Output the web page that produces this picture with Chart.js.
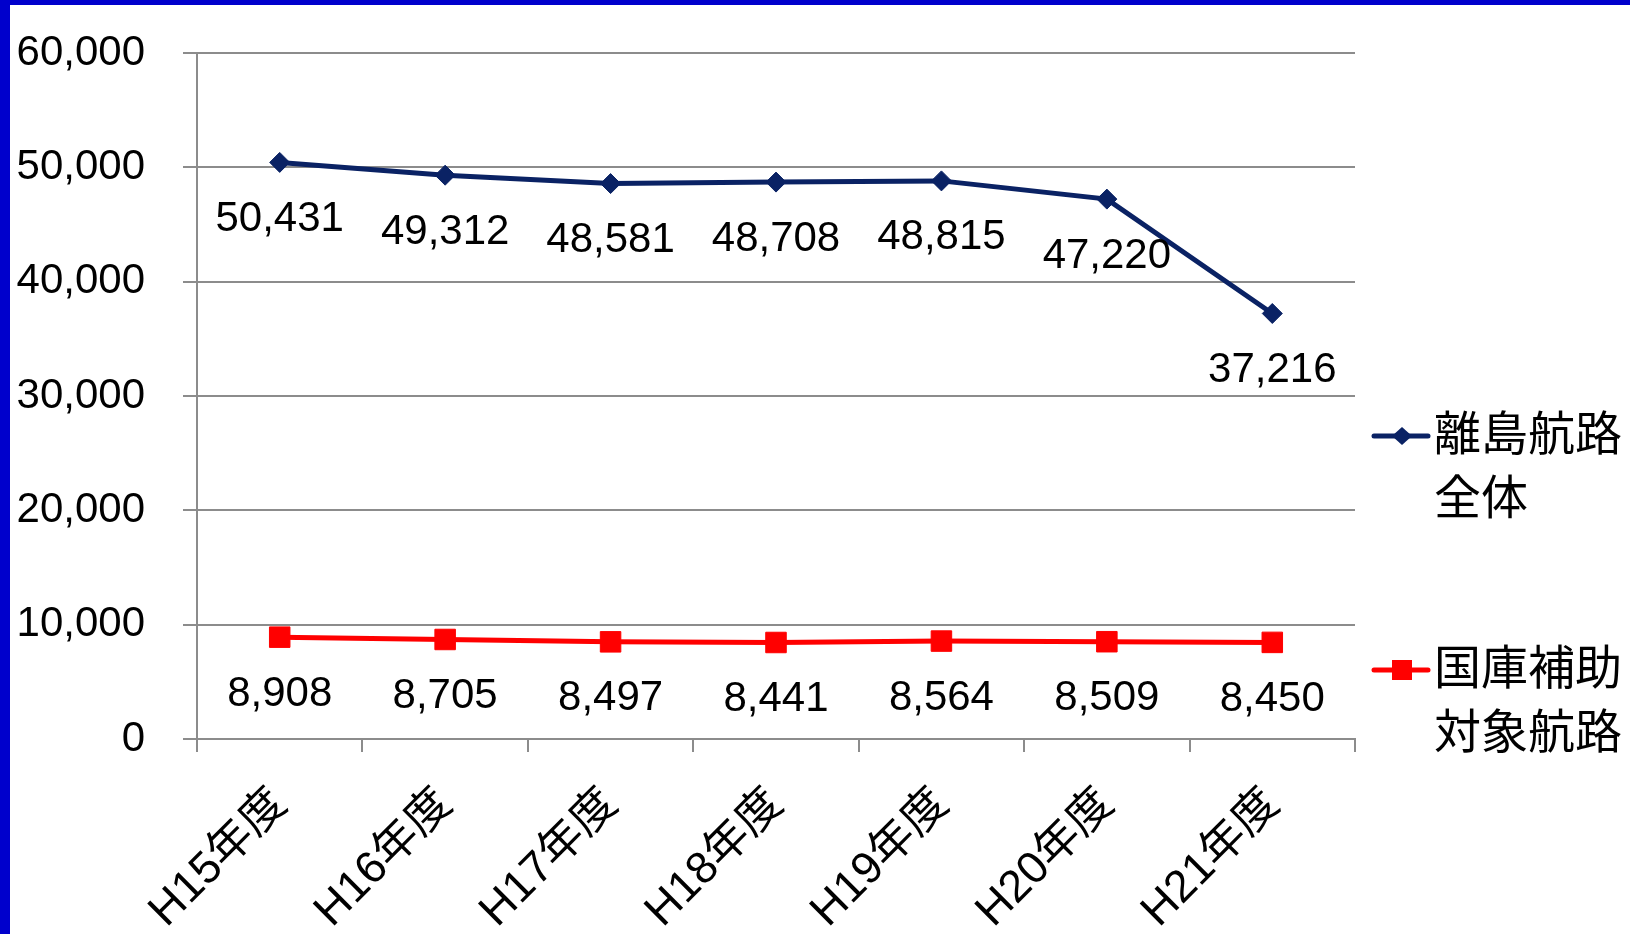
<!DOCTYPE html>
<html>
<head>
<meta charset="utf-8">
<script src="https://cdn.jsdelivr.net/npm/chart.js@4.4.0/dist/chart.umd.min.js"></script>
<style>
  html, body { margin: 0; padding: 0; background: #fff; }
  #frame {
    position: absolute; left: 0; top: 0;
    width: 1620px; height: 929px;
    border-left: 10px solid #0000cc;
    border-top: 5px solid #0000cc;
  }
  canvas { display: block; }
</style>
</head>
<body>
<div id="frame"><canvas id="chart" width="1620" height="929"></canvas></div>
<script>
  // passengers per year (thousand), fiscal years H15..H21
  const years = ['H15年度', 'H16年度', 'H17年度', 'H18年度', 'H19年度', 'H20年度', 'H21年度'];
  const allIslandRoutes = [50431, 49312, 48581, 48708, 48815, 47220, 37216];
  const subsidizedRoutes = [8908, 8705, 8497, 8441, 8564, 8509, 8450];
  const seriesNames = [['離島航路', '全体'], ['国庫補助', '対象航路']];
  const yMax = 60000;
  const yStep = 10000;

  const FONT = '"Liberation Sans", "Noto Sans CJK JP", sans-serif';
  const GRID = '#8c8c8c';

  // value under every point
  const valueLabels = {
    id: 'valueLabels',
    afterDatasetsDraw(chart) {
      const ctx = chart.ctx;
      ctx.save();
      ctx.font = '42px ' + FONT;
      ctx.fillStyle = '#000';
      ctx.textAlign = 'center';
      ctx.textBaseline = 'middle';
      chart.data.datasets.forEach((ds, i) => {
        chart.getDatasetMeta(i).data.forEach((pt, j) => {
          ctx.fillText(ds.data[j].toLocaleString('en-US'), pt.x, pt.y + 57);
        });
      });
      ctx.restore();
    }
  };

  // legend on the right: line + marker, two-line label
  const sideLegend = {
    id: 'sideLegend',
    afterDraw(chart) {
      const { ctx, chartArea } = chart;
      const x0 = chartArea.right + 19;
      const rows = [chartArea.top + 383, chartArea.top + 617];
      chart.data.datasets.forEach((ds, i) => {
        const y = rows[i];
        ctx.save();
        ctx.strokeStyle = ds.borderColor;
        ctx.lineWidth = 5;
        ctx.lineCap = 'round';
        ctx.beginPath();
        ctx.moveTo(x0, y);
        ctx.lineTo(x0 + 54, y);
        ctx.stroke();
        ctx.fillStyle = ds.borderColor;
        const cx = x0 + 28;
        ctx.beginPath();
        if (ds.pointStyle === 'rectRot') {
          ctx.moveTo(cx - 10, y);
          ctx.lineTo(cx, y - 9);
          ctx.lineTo(cx + 10, y);
          ctx.lineTo(cx, y + 9);
          ctx.closePath();
        } else {
          ctx.rect(cx - 10, y - 10, 20, 20);
        }
        ctx.fill();
        ctx.fillStyle = '#000';
        ctx.font = '47px ' + FONT;
        ctx.textAlign = 'left';
        ctx.textBaseline = 'middle';
        seriesNames[i].forEach((line, k) => {
          ctx.fillText(line, x0 + 60, y + 1 + k * 64);
        });
        ctx.restore();
      });
    }
  };

  function createChart() {
    const ctx = document.getElementById('chart').getContext('2d');
    new Chart(ctx, {
      type: 'line',
      data: {
        labels: years,
        datasets: [
          {
            label: seriesNames[0].join(''),
            data: allIslandRoutes,
            borderColor: '#0a2264',
            backgroundColor: '#0a2264',
            borderWidth: 5,
            pointStyle: 'rectRot',
            pointRadius: 10,
            pointBorderWidth: 1,
            tension: 0
          },
          {
            label: seriesNames[1].join(''),
            data: subsidizedRoutes,
            borderColor: '#ff0000',
            backgroundColor: '#ff0000',
            borderWidth: 5,
            pointStyle: 'rect',
            pointRadius: 14.5,
            pointBorderWidth: 1,
            tension: 0
          }
        ]
      },
      options: {
        responsive: false,
        animation: false,
        layout: { padding: { top: 48, right: 275, left: 0, bottom: 0 } },
        plugins: {
          legend: { display: false },
          tooltip: { enabled: false }
        },
        scales: {
          x: {
            offset: true,
            grid: { offset: true, drawOnChartArea: false, color: GRID, lineWidth: 2, tickLength: 13 },
            border: { color: GRID, width: 2 },
            ticks: {
              autoSkip: false,
              maxRotation: 45,
              minRotation: 45,
              color: '#000',
              padding: 26,
              font: { size: 45, family: FONT }
            },
            afterFit(scale) { scale.height = 195; }
          },
          y: {
            min: 0,
            max: yMax,
            grid: { color: GRID, lineWidth: 2, tickLength: 14 },
            border: { color: GRID, width: 2 },
            ticks: {
              stepSize: yStep,
              color: '#000',
              padding: 38,
              font: { size: 42, family: FONT },
              callback: v => v.toLocaleString('en-US')
            },
            afterFit(scale) {
              scale.width = 187;
              // the wide label gap should not push the plot down
              scale.paddingTop = 0;
              scale.paddingBottom = 0;
            }
          }
        }
      },
      plugins: [valueLabels, sideLegend]
    });
  }

  createChart();
</script>
</body>
</html>
